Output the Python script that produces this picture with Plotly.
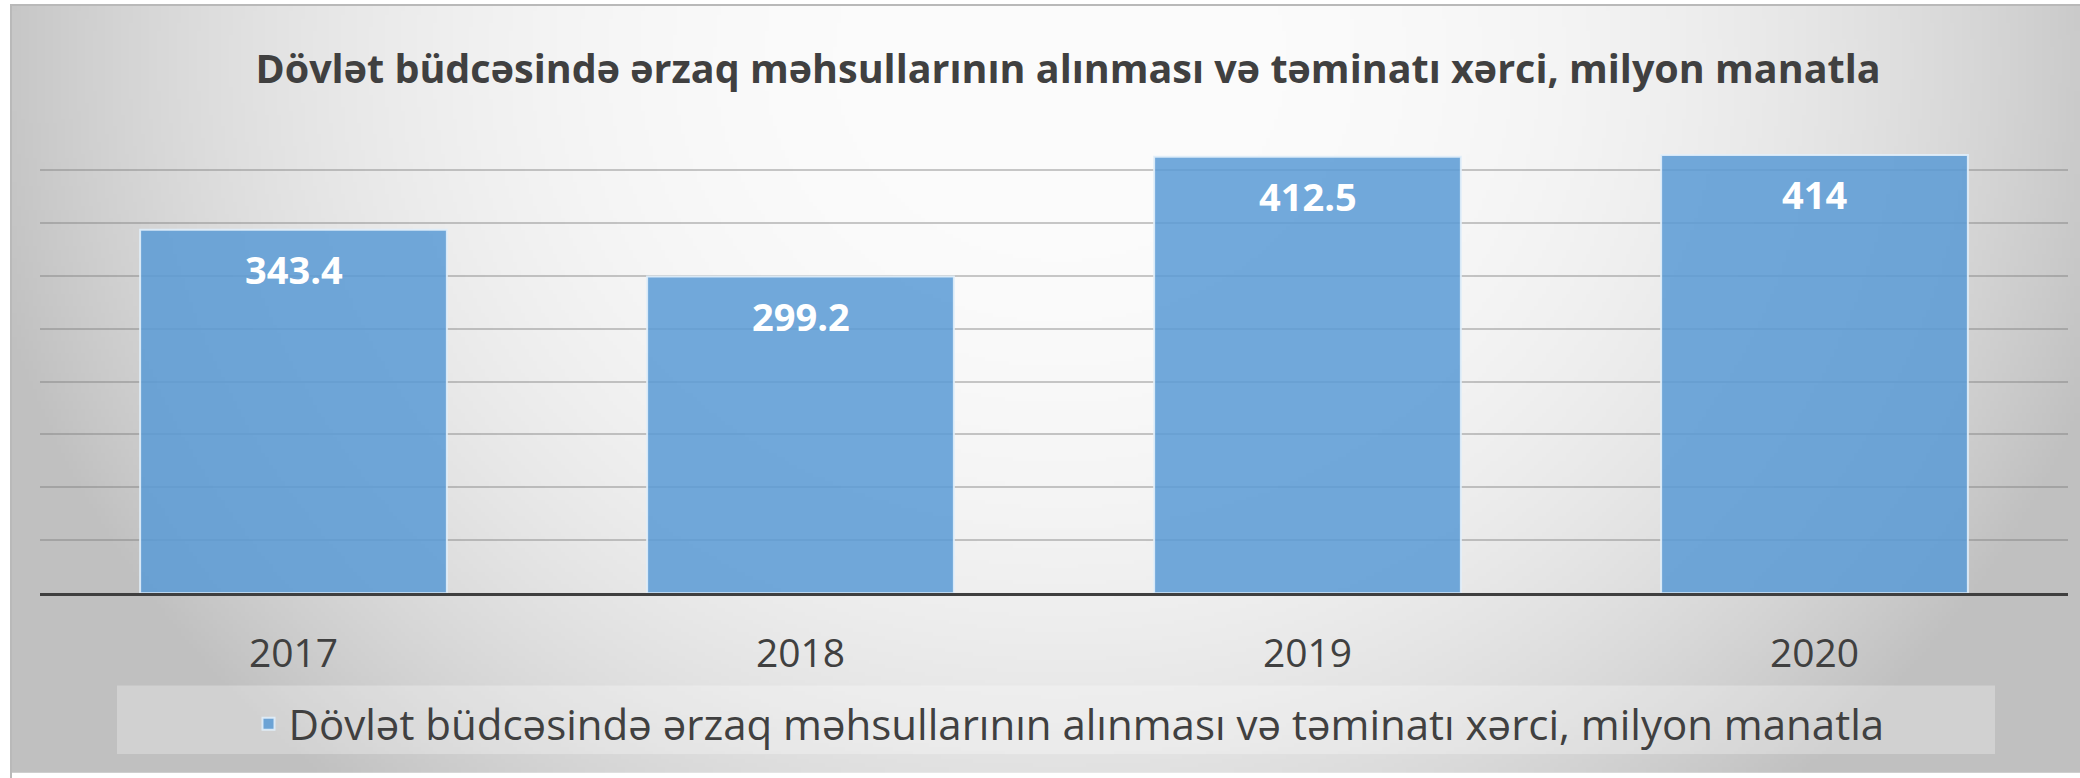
import base64
import struct
import zlib

import numpy as np
import plotly.graph_objects as go

# ---------------- data ----------------
years = ["2017", "2018", "2019", "2020"]
values = [343.4, 299.2, 412.5, 414]
value_labels = ["343.4", "299.2", "412.5", "414"]
series_name = "Dövlət büdcəsində ərzaq məhsullarının alınması və təminatı xərci, milyon manatla"
chart_title = "Dövlət büdcəsində ərzaq məhsullarının alınması və təminatı xərci, milyon manatla"

W, H = 2080, 778
ML, MR, MT, MB = 40, 12, 117, 181
PW = W - ML - MR
PH = H - MT - MB


def px_to_paper_x(px):
    return (px - ML) / PW


def px_to_paper_y(py):
    return (H - MB - py) / PH


# ---------------- radial gradient background (PNG) ----------------
def make_png(arr):
    h, w, _ = arr.shape
    raw = b"".join(b"\x00" + arr[i].tobytes() for i in range(h))

    def chunk(tag, data):
        c = struct.pack(">I", len(data)) + tag + data
        return c + struct.pack(">I", zlib.crc32(tag + data) & 0xFFFFFFFF)

    png = b"\x89PNG\r\n\x1a\n"
    png += chunk(b"IHDR", struct.pack(">IIBBBBB", w, h, 8, 2, 0, 0, 0))
    png += chunk(b"IDAT", zlib.compress(raw, 9))
    png += chunk(b"IEND", b"")
    return png


bx0, by0 = 11, 4
bw, bh = W - bx0, H - by0
scale = 4
gw, gh = bw // scale, bh // scale
gx = bx0 + (np.arange(gw) + 0.5) * scale
gy = by0 + (np.arange(gh) + 0.5) * scale
XX, YY = np.meshgrid(gx, gy)
r = np.sqrt(((XX - 1060) / 1100.0) ** 2 + ((YY - 60) / 980.0) ** 2)
f = np.clip(r, 0, 1) ** 2.6
c = 252 - (252 - 192) * f
img = np.repeat(c[:, :, None], 3, axis=2).astype(np.uint8)
bg_uri = "data:image/png;base64," + base64.b64encode(make_png(img)).decode()

# ---------------- figure ----------------
fig = go.Figure()
fig.add_trace(
    go.Bar(
        x=list(years),
        y=list(values),
        name=series_name,
        marker=dict(
            color="rgba(91,155,213,0.86)",
            line=dict(color="rgba(225,238,250,0.9)", width=2),
        ),
        hoverinfo="x+y",
        showlegend=True,
    )
)

# data labels: on a category axis annotations use the category index
annotations = []
for i, (v, lab) in enumerate(zip(values, value_labels)):
    annotations.append(
        dict(
            x=i,
            y=v,
            xref="x",
            yref="y",
            xanchor="center",
            text=lab,
            showarrow=False,
            yanchor="top",
            yshift=-11,
            font=dict(family="Open Sans", size=38, color="white", weight="bold"),
        )
    )

shapes = [
    # legend box
    dict(
        type="rect",
        xref="paper",
        yref="paper",
        x0=px_to_paper_x(117),
        x1=px_to_paper_x(1995),
        y0=px_to_paper_y(759),
        y1=px_to_paper_y(690),
        fillcolor="rgba(255,255,255,0.28)",
        line=dict(width=0),
        layer="below",
    ),
    # outer chart border (left / top visible)
    dict(
        type="rect",
        xref="paper",
        yref="paper",
        x0=px_to_paper_x(bx0),
        x1=px_to_paper_x(W + 10),
        y0=px_to_paper_y(H + 10),
        y1=px_to_paper_y(by0),
        line=dict(color="#b9b9b9", width=2),
        fillcolor="rgba(0,0,0,0)",
        layer="below",
    ),
]

fig.update_layout(
    width=W,
    height=H,
    margin=dict(l=ML, r=MR, t=MT, b=MB, pad=0),
    paper_bgcolor="white",
    plot_bgcolor="rgba(0,0,0,0)",
    bargap=0.395,
    title=dict(
        text=chart_title,
        x=1068 / W,
        xanchor="center",
        xref="container",
        y=1 - 69 / H,
        yanchor="middle",
        yref="container",
        font=dict(family="Open Sans", size=39.5, color="#404040", weight="bold"),
    ),
    xaxis=dict(
        type="category",
        categoryorder="array",
        categoryarray=list(years),
        range=[-0.5, len(years) - 0.5],
        autorange=False,
        showline=True,
        linecolor="#3f3f3f",
        linewidth=3,
        ticks="",
        ticklabelstandoff=24,
        tickfont=dict(family="Open Sans", size=39, color="#404040"),
        showgrid=False,
        fixedrange=True,
    ),
    yaxis=dict(
        range=[0, 450],
        autorange=False,
        dtick=50,
        tick0=0,
        showticklabels=False,
        showgrid=True,
        gridcolor="rgba(120,120,120,0.40)",
        gridwidth=2,
        zeroline=False,
        fixedrange=True,
    ),
    legend=dict(
        orientation="h",
        xref="container",
        yref="container",
        x=1069 / W,
        xanchor="center",
        y=1 - 724 / H,
        yanchor="middle",
        bgcolor="rgba(0,0,0,0)",
        font=dict(family="Open Sans", size=42, color="#404040"),
        itemwidth=30,
    ),
    annotations=annotations,
    shapes=shapes,
    images=[
        dict(
            source=bg_uri,
            xref="paper",
            yref="paper",
            x=px_to_paper_x(bx0),
            y=px_to_paper_y(by0),
            sizex=bw / PW,
            sizey=bh / PH,
            xanchor="left",
            yanchor="top",
            sizing="stretch",
            layer="below",
        )
    ],
)

fig.write_html(
    "out.html",
    config={"displayModeBar": False},
    post_script="document.body.style.margin='0';document.body.style.overflow='hidden';",
)
